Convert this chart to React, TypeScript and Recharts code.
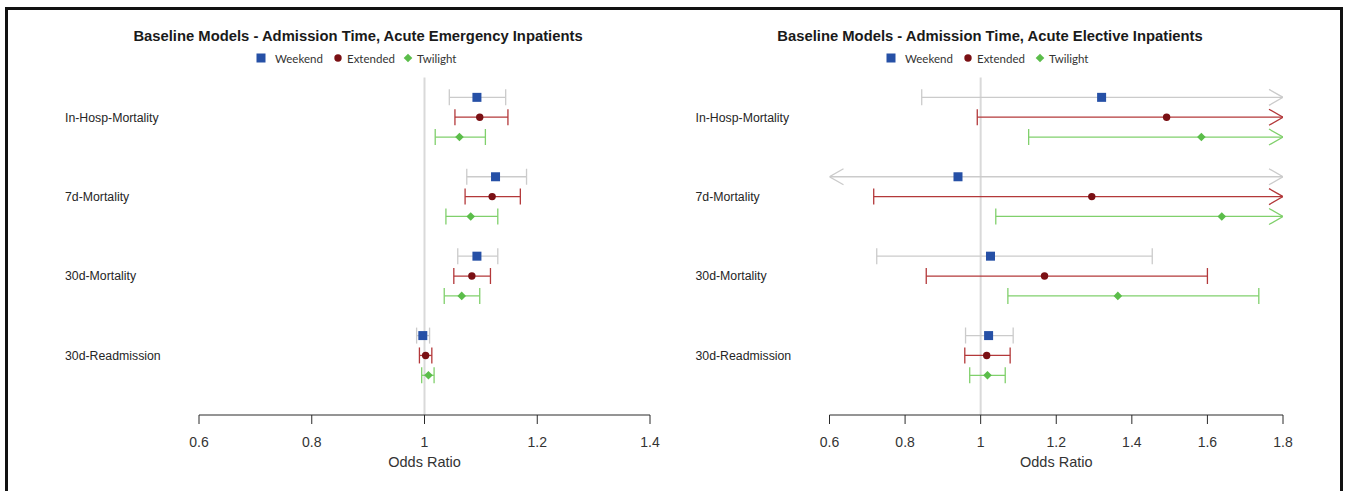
import React from "react";
import { ScatterChart, Scatter, XAxis, YAxis, ReferenceLine } from "recharts";

const outcomes = ["In-Hosp-Mortality", "7d-Mortality", "30d-Mortality", "30d-Readmission"];
const seriesNames = ["Weekend", "Extended", "Twilight"];

// Acute emergency inpatients: odds ratio, lower and upper CI per outcome
const emWeekendOR = [1.093, 1.126, 1.093, 0.997];
const emWeekendLo = [1.044, 1.075, 1.059, 0.986];
const emWeekendHi = [1.144, 1.181, 1.13, 1.009];
const emExtendedOR = [1.098, 1.12, 1.084, 1.002];
const emExtendedLo = [1.054, 1.072, 1.052, 0.991];
const emExtendedHi = [1.148, 1.17, 1.117, 1.013];
const emTwilightOR = [1.062, 1.082, 1.066, 1.007];
const emTwilightLo = [1.019, 1.038, 1.035, 0.995];
const emTwilightHi = [1.108, 1.13, 1.098, 1.017];

// Acute elective inpatients (bounds beyond the axis are drawn as arrows)
const elWeekendOR = [1.32, 0.94, 1.026, 1.021];
const elWeekendLo = [0.844, 0.55, 0.725, 0.96];
const elWeekendHi = [1.95, 1.95, 1.454, 1.086];
const elExtendedOR = [1.492, 1.294, 1.169, 1.016];
const elExtendedLo = [0.991, 0.717, 0.856, 0.958];
const elExtendedHi = [2.1, 2.0, 1.6, 1.078];
const elTwilightOR = [1.584, 1.638, 1.363, 1.018];
const elTwilightLo = [1.127, 1.04, 1.072, 0.971];
const elTwilightHi = [2.2, 2.3, 1.736, 1.065];

const emergencyTicks = [0.6, 0.8, 1, 1.2, 1.4];
const electiveTicks = [0.6, 0.8, 1, 1.2, 1.4, 1.6, 1.8];

const STYLE: Record<string, { point: string; whisker: string }> = {
  Weekend: { point: "#2650a6", whisker: "#cbcbcb" },
  Extended: { point: "#7a1014", whisker: "#b3383a" },
  Twilight: { point: "#5bbd4a", whisker: "#80d06c" },
};

const FONT = "'Liberation Sans', Arial, sans-serif";

const Marker = ({ series, cx, cy }: { series: string; cx: number; cy: number }) => {
  const c = STYLE[series].point;
  if (series === "Weekend") return <rect x={cx - 4.5} y={cy - 4.5} width={9} height={9} fill={c} />;
  if (series === "Extended") return <circle cx={cx} cy={cy} r={3.7} fill={c} />;
  return <path d={`M${cx},${cy - 4.3}L${cx + 4.3},${cy}L${cx},${cy + 4.3}L${cx - 4.3},${cy}Z`} fill={c} />;
};

const endShape = (color: string) => (props: any) => {
  const { cx, cy, payload } = props;
  if (payload.arrow === "right")
    return <path d={`M${cx - 14},${cy - 8}L${cx},${cy}L${cx - 14},${cy + 8}`} fill="none" stroke={color} strokeWidth={1.3} />;
  if (payload.arrow === "left")
    return <path d={`M${cx + 14},${cy - 8}L${cx},${cy}L${cx + 14},${cy + 8}`} fill="none" stroke={color} strokeWidth={1.3} />;
  return <line x1={cx} x2={cx} y1={cy - 8} y2={cy + 8} stroke={color} strokeWidth={1.3} />;
};

const OutcomeTick = (props: any) => {
  const { x, y, payload } = props;
  const label = outcomes[(payload.value - 1) / 4];
  return (
    <text x={x - 134} y={y} dy="0.35em" textAnchor="start" fontSize={12.3} fill="#262626" fontFamily={FONT}>
      {label}
    </text>
  );
};

type Panel = {
  title: string;
  left: number;
  width: number;
  axisWidth: number;
  plotRight: number;
  titleX: number;
  legendX: number[];
  domain: [number, number];
  ticks: number[];
  or: number[][];
  lo: number[][];
  hi: number[][];
};

const ForestPanel = ({ p }: { p: Panel }) => {
  const [min, max] = p.domain;
  const points = seriesNames.map((s, si) =>
    outcomes.map((_, g) => ({ x: p.or[si][g], y: g * 4 + si }))
  );
  const whiskers = seriesNames.flatMap((s, si) =>
    outcomes.map((_, g) => {
      const y = g * 4 + si;
      const lo = p.lo[si][g];
      const hi = p.hi[si][g];
      return {
        key: `${s}-${g}`,
        series: s,
        data: [
          { x: Math.max(lo, min), y, arrow: lo < min ? "left" : "" },
          { x: Math.min(hi, max), y, arrow: hi > max ? "right" : "" },
        ],
      };
    })
  );
  return (
    <div style={{ position: "absolute", left: p.left, top: 0, width: p.width, height: 491 }}>
      <div
        style={{
          position: "absolute",
          left: p.titleX - p.left - 300,
          width: 600,
          top: 28,
          textAlign: "center",
          fontFamily: FONT,
          fontWeight: "bold",
          fontSize: 14.8,
          color: "#1a1a1a",
        }}
      >
        {p.title}
      </div>
      {seriesNames.map((s, i) => (
        <div key={s} style={{ position: "absolute", left: p.legendX[i] - p.left - 6, top: 50, height: 16, display: "flex", alignItems: "center" }}>
          <svg width={12} height={16}>
            <Marker series={s} cx={6} cy={8} />
          </svg>
          <span style={{ fontFamily: "Lato, 'Open Sans', sans-serif", fontSize: 11.5, color: "#333", marginLeft: i === 0 ? 8 : 3 }}>{s}</span>
        </div>
      ))}
      <ScatterChart
        width={p.width}
        height={491}
        margin={{ top: 77.5, right: p.left + p.width - p.plotRight, left: 0, bottom: 26 }}
        style={{ position: "absolute", left: 0, top: 0 }}
      >
        <XAxis
          type="number"
          dataKey="x"
          domain={p.domain}
          ticks={p.ticks}
          allowDataOverflow
          height={50}
          tickSize={9}
          tickMargin={13}
          stroke="#2a2a2a"
          tick={{ fill: "#333", fontSize: 14, fontFamily: FONT }}
          label={{ value: "Odds Ratio", position: "insideBottom", offset: -2, fill: "#333", fontSize: 14.5, fontFamily: FONT }}
        />
        <YAxis
          type="number"
          dataKey="y"
          domain={[-1, 16]}
          reversed
          allowDataOverflow
          width={p.axisWidth}
          ticks={[1, 5, 9, 13]}
          tickSize={0}
          tickMargin={0}
          axisLine={false}
          tickLine={false}
          tick={<OutcomeTick />}
        />
        <ReferenceLine x={1} stroke="#d9d9d9" strokeWidth={2} />
        {whiskers.map((w) => (
          <Scatter
            key={w.key}
            data={w.data}
            line={{ stroke: STYLE[w.series].whisker, strokeWidth: 1.3 }}
            lineType="joint"
            shape={endShape(STYLE[w.series].whisker)}
            isAnimationActive={false}
          />
        ))}
        {seriesNames.map((s, si) => (
          <Scatter
            key={s}
            data={points[si]}
            shape={(props: any) => <Marker series={s} cx={props.cx} cy={props.cy} />}
            isAnimationActive={false}
          />
        ))}
      </ScatterChart>
    </div>
  );
};

const emergency: Panel = {
  title: "Baseline Models - Admission Time, Acute Emergency Inpatients",
  left: 0,
  width: 670,
  axisWidth: 199,
  plotRight: 650,
  titleX: 358,
  legendX: [261, 338, 408],
  domain: [0.6, 1.4],
  ticks: emergencyTicks,
  or: [emWeekendOR, emExtendedOR, emTwilightOR],
  lo: [emWeekendLo, emExtendedLo, emTwilightLo],
  hi: [emWeekendHi, emExtendedHi, emTwilightHi],
};

const elective: Panel = {
  title: "Baseline Models - Admission Time, Acute Elective Inpatients",
  left: 640,
  width: 690,
  axisWidth: 189.5,
  plotRight: 1283,
  titleX: 990,
  legendX: [891, 968, 1040],
  domain: [0.6, 1.8],
  ticks: electiveTicks,
  or: [elWeekendOR, elExtendedOR, elTwilightOR],
  lo: [elWeekendLo, elExtendedLo, elTwilightLo],
  hi: [elWeekendHi, elExtendedHi, elTwilightHi],
};

export default function App() {
  return (
    <div style={{ position: "absolute", left: 0, top: 0, width: 1347, height: 491, background: "#fff", overflow: "hidden" }}>
      <div style={{ position: "absolute", left: 5, top: 7, width: 1338, height: 500, border: "3px solid #111", boxSizing: "border-box" }} />
      <ForestPanel p={emergency} />
      <ForestPanel p={elective} />
    </div>
  );
}
